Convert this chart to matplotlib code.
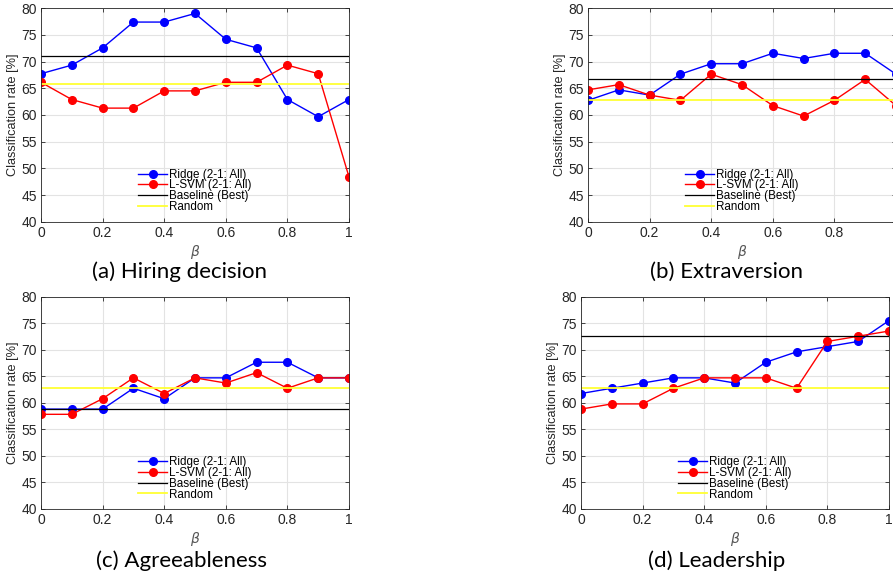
import numpy as np
import matplotlib
matplotlib.use("Agg")
import matplotlib.pyplot as plt

# beta values shared by all four panels
beta = [0, 0.1, 0.2, 0.3, 0.4, 0.5, 0.6, 0.7, 0.8, 0.9, 1.0]

# (a) Hiring decision
hire_ridge = [67.74, 69.35, 72.58, 77.42, 77.42, 79.03, 74.19, 72.58, 62.90, 59.68, 62.90]
hire_svm = [66.13, 62.90, 61.29, 61.29, 64.52, 64.52, 66.13, 66.13, 69.35, 67.74, 48.39]
hire_base = 70.97
hire_rand = 65.9

# (b) Extraversion
extra_ridge = [62.75, 64.71, 63.73, 67.65, 69.61, 69.61, 71.57, 70.59, 71.57, 71.57, 67.65]
extra_svm = [64.71, 65.69, 63.73, 62.75, 67.65, 65.69, 61.76, 59.80, 62.75, 66.67, 61.76]
extra_base = 66.67
extra_rand = 62.75

# (c) Agreeableness
agree_ridge = [58.82, 58.82, 58.82, 62.75, 60.78, 64.71, 64.71, 67.65, 67.65, 64.71, 64.71]
agree_svm = [57.84, 57.84, 60.78, 64.71, 61.76, 64.71, 63.73, 65.69, 62.75, 64.71, 64.71]
agree_base = 58.82
agree_rand = 62.75

# (d) Leadership
lead_ridge = [61.76, 62.75, 63.73, 64.71, 64.71, 63.73, 67.65, 69.61, 70.59, 71.57, 75.49]
lead_svm = [58.82, 59.80, 59.80, 62.75, 64.71, 64.71, 64.71, 62.75, 71.57, 72.55, 73.53]
lead_base = 72.55
lead_rand = 62.75

captions = ["(a) Hiring decision", "(b) Extraversion", "(c) Agreeableness", "(d) Leadership"]
legend_labels = ["Ridge (2-1: All)", "L-SVM (2-1: All)", "Baseline (Best)", "Random"]
xtick_labels = ["0", "0.2", "0.4", "0.6", "0.8", "1"]

W, H = 893, 578
fig = plt.figure(figsize=(W / 100, H / 100), dpi=100)

ink = "#262626"


def px_axes(left, top, right, bottom):
    # pixel box -> figure fraction
    return fig.add_axes([left / W, 1 - bottom / H, (right - left) / W, (bottom - top) / H])


def panel(ax, ridge, svm, base, rand, xlabels=xtick_labels):
    ax.plot(beta, ridge, "-o", color="blue", lw=1.0, ms=5.5, label=legend_labels[0])
    ax.plot(beta, svm, "-o", color="red", lw=1.0, ms=5.5, label=legend_labels[1])
    ax.axhline(base, color="black", lw=0.9, label=legend_labels[2])
    ax.axhline(rand, color="#ffff33", lw=1.3, label=legend_labels[3])
    ax.set_xlim(0, 1)
    ax.set_ylim(40, 80)
    ax.set_xticks(np.arange(0, 1.01, 0.2))
    ax.set_xticklabels(xlabels)
    ax.set_yticks(np.arange(40, 81, 5))
    ax.grid(True, color="#e3e3e3", lw=0.8)
    ax.set_axisbelow(True)
    ax.tick_params(direction="in", length=3, width=0.6, top=True, right=True,
                   colors=ink, labelsize=10, pad=3)
    for s in ax.spines.values():
        s.set_color(ink)
        s.set_linewidth(0.6)
    ax.set_ylabel("Classification rate [%]", fontsize=9.2, color=ink, labelpad=2)
    ax.set_xlabel(r"$\beta$", fontsize=10, color="#555555", labelpad=2)
    ax.legend(loc="lower left", bbox_to_anchor=(0.315, 0.04), frameon=False,
              fontsize=8.4, handlelength=2.5, handletextpad=0.15,
              labelspacing=-0.1, borderpad=0, borderaxespad=0)


plt.rcParams["font.family"] = ["Liberation Sans", "DejaVu Sans"]

ax_a = px_axes(41, 8.3, 349, 221.7)
ax_b = px_axes(588, 8.3, 896, 221.7)
ax_c = px_axes(41, 296.7, 349, 509)
ax_d = px_axes(581, 296.7, 889, 509)

panel(ax_a, hire_ridge, hire_svm, hire_base, hire_rand)
# panel (b) runs past the right edge of the figure, its "1" label is cut off
panel(ax_b, extra_ridge, extra_svm, extra_base, extra_rand, xtick_labels[:-1] + [""])
panel(ax_c, agree_ridge, agree_svm, agree_base, agree_rand)
panel(ax_d, lead_ridge, lead_svm, lead_base, lead_rand)

cap_pos = [(179, 272), (726, 272), (181, 561), (717, 561)]
for txt, (cx, cy) in zip(captions, cap_pos):
    fig.text(cx / W, 1 - cy / H, txt, ha="center", va="center",
             fontsize=16, family="Lato", color="black")

fig.savefig("out.png", dpi=100)
